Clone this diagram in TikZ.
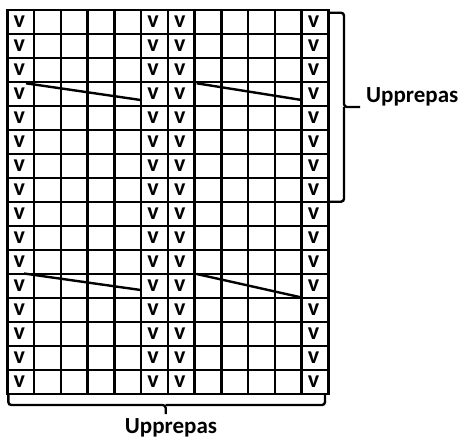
\documentclass[tikz,border=0pt]{standalone}
\usepackage{fontspec}
\setmainfont{Carlito}
\begin{document}
\begin{tikzpicture}[x=1pt,y=-1pt, line width=2.4pt,
  vmark/.style={font=\fontsize{24}{24}\selectfont\bfseries, inner sep=0pt},
  lab/.style={font=\fontsize{23}{23}\selectfont\bfseries, inner sep=0pt},
  brc/.style={line width=2.4pt, rounded corners=3pt},
  gridline/.style={line width=2.4pt, line cap=rect}]
\useasboundingbox (0,0) rectangle (462,440);
\def\cw{26.75}
\def\ch{24}
\def\gx{7.3}
\def\gy{10}
% grid
\foreach \i in {0,...,12} \draw[gridline] (\gx+\i*\cw,\gy) -- (\gx+\i*\cw,\gy+16*\ch);
\foreach \j in {0,...,16} \draw[gridline] (\gx,\gy+\j*\ch) -- (\gx+12*\cw,\gy+\j*\ch);
% v marks
\foreach \r in {1,...,16}
  \foreach \c in {1,6,7,12}
    \node[vmark] (v-\r-\c) at (\gx+\c*\cw-0.55*\cw, \gy+\r*\ch-0.5*\ch) {v};
% diagonals
\coordinate (d1a) at (26,83.3);
\coordinate (d1b) at (140.7,100);
\coordinate (d2a) at (196.7,83.3);
\coordinate (d2b) at (301.7,100);
\coordinate (d3a) at (24,273.5);
\coordinate (d3b) at (140.7,290);
\coordinate (d4a) at (196.7,274);
\coordinate (d4b) at (301.7,297.5);
\draw (d1a) -- (d1b);
\draw (d2a) -- (d2b);
\draw (d3a) -- (d3b);
\draw (d4a) -- (d4b);
% right brace
\coordinate (rt) at (330,12.7);
\coordinate (rb) at (330,201.7);
\coordinate (rm) at (344,107);
\coordinate (rtip) at (360,107);
\draw[brc] (rt) -| (rm) -- (rtip);
\draw[brc] (rb) -| (rm);
\node[lab, anchor=base west] (labR) at (365,102.7) {Upprepas};
% bottom brace
\coordinate (bl) at (8.3,393);
\coordinate (br) at (325,393);
\coordinate (bm) at (165.7,405);
\coordinate (btip) at (165.7,414);
\draw[brc] (bl) |- (bm) -- (btip);
\draw[brc] (br) |- (bm);
\node[lab, anchor=base] (labB) at (171,433.5) {Upprepas};
\end{tikzpicture}
\end{document}
